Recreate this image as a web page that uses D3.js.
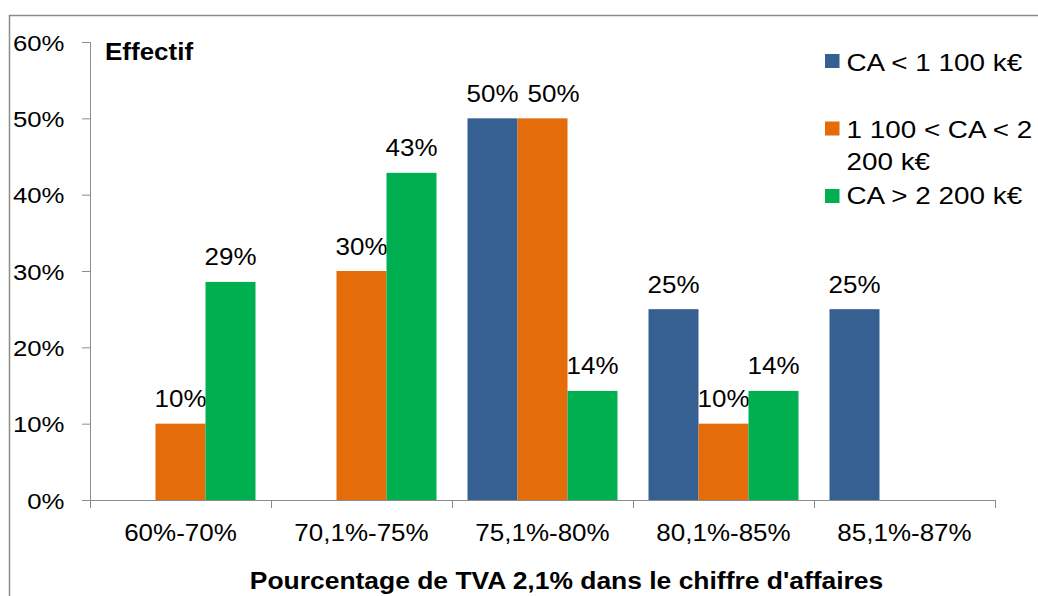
<!DOCTYPE html>
<html><head><meta charset="utf-8">
<script src="https://cdn.jsdelivr.net/npm/d3@7"></script>
<style>body{margin:0;background:#fff}svg{display:block;font-family:"Liberation Sans",Arial,sans-serif}</style>
</head><body><svg id="c" width="1038" height="596"></svg>
<script>
const categories = ["60%-70%","70,1%-75%","75,1%-80%","80,1%-85%","85,1%-87%"];
const seriesNames = ["CA < 1 100 k€","1 100 < CA < 2 200 k€","CA > 2 200 k€"];
const blueValues = [null, null, 50, 25, 25];
const orangeValues = [10, 30, 50, 10, null];
const greenValues = [28.57, 42.86, 14.29, 14.29, null];
const yTicks = [0,10,20,30,40,50,60];
const colors = ["#376092","#E46C0A","#00B050"];

const svg = d3.select("#c");
const FF = "Liberation Sans, Arial, sans-serif";
const m = {l:90, r:995, t:42, b:500};
const x = d3.scaleBand().domain(categories).range([m.l, m.r]).paddingInner(0).paddingOuter(0);
const y = d3.scaleLinear().domain([0,60]).range([m.b, m.t]);

function stext(parent, tx, ty, str, size, k, opts={}) {
  const t = parent.append("text")
    .attr("transform", `translate(${tx},${ty}) scale(${k},1)`)
    .attr("font-size", size).attr("font-family", FF).attr("fill", "#000")
    .attr("text-anchor", opts.anchor || "start")
    .text(str);
  if (opts.bold) t.attr("font-weight", "bold");
  return t;
}

// outer border
svg.append("path").attr("d", "M9.5,596 V15.5 H1038").attr("fill","none").attr("stroke","#8c8c8c").attr("stroke-width",1.5);

// y axis
const ky = 1.12;
const ya = svg.append("g").attr("transform",`translate(${m.l},0)`)
  .call(d3.axisLeft(y).tickValues(yTicks).tickSize(8).tickFormat(d=>d+"%"));
ya.select(".domain").attr("stroke","#8c8c8c").attr("d",`M-8,${m.t+0.5}H0.5V${m.b+0.5}H-8`);
ya.selectAll(".tick line").attr("stroke","#8c8c8c");
ya.selectAll("text").attr("font-size",23).attr("fill","#000").attr("font-family",FF)
  .attr("x", -25.5/ky).attr("dy","0.36em").attr("transform",`scale(${ky},1)`);

// x axis
const kx = 1.13;
const xa = svg.append("g").attr("transform",`translate(0,${m.b})`)
  .call(d3.axisBottom(x).tickSize(0).tickPadding(25));
xa.select(".domain").attr("stroke","#8c8c8c").attr("d",`M${m.l+0.5},8V0.5H${m.r+0.5}V8`);
xa.selectAll("text").attr("font-size",23).attr("fill","#000").attr("font-family",FF)
  .attr("transform",`scale(${kx},1)`);
xa.selectAll(".bnd").data(d3.range(categories.length+1)).enter().append("line")
  .attr("x1",i=>Math.round(m.l + i*x.step())+0.5).attr("x2",i=>Math.round(m.l + i*x.step())+0.5)
  .attr("y1",0).attr("y2",8).attr("stroke","#8c8c8c");

// bars
const gap = 31;
const bw = (x.bandwidth()-gap)/3;
const series = [blueValues, orangeValues, greenValues];
const labelG = svg.append("g");
const placed = []; // label boxes for simple collision nudge
series.forEach((vals, si) => {
  const g = svg.append("g");
  const data = categories.map((c,i)=>({c, v: vals[i]})).filter(d=>d.v!=null);
  g.selectAll("rect").data(data).enter().append("rect")
    .attr("x", d=>x(d.c)+gap/2+si*bw).attr("width", bw)
    .attr("y", d=>y(d.v)).attr("height", d=>y(0)-y(d.v)).attr("fill", colors[si]);
});
categories.forEach((c, ci) => {
  let prevRight = -Infinity, prevY = null;
  series.forEach((vals, si) => {
    const v = vals[ci];
    if (v == null) return;
    const ty = y(v) - 16.5;
    let cx = x(c) + gap/2 + si*bw + bw/2;
    const t = stext(labelG, cx, ty, Math.round(v)+"%", 23, 1.13, {anchor:"middle"});
    const w = t.node().getBBox().width * 1.13;
    if (prevY !== null && Math.abs(prevY - ty) < 20 && cx - w/2 < prevRight + 9) {
      cx = prevRight + 9 + w/2;
      t.attr("transform", `translate(${cx},${ty}) scale(1.13,1)`);
    }
    prevRight = cx + w/2; prevY = ty;
  });
});

// "Effectif" label
stext(svg, 105, 60, "Effectif", 23, 1.13, {bold:true});

// axis title
stext(svg, 566.5, 588.5, "Pourcentage de TVA 2,1% dans le chiffre d'affaires", 23, 1.15, {anchor:"middle", bold:true});

// legend
const legendRows = [{lines:["CA < 1 100 k€"], sq:54, base:70.5},
                    {lines:["1 100 < CA < 2","200 k€"], sq:121.5, base:138},
                    {lines:["CA > 2 200 k€"], sq:189, base:204}];
legendRows.forEach((r,i)=>{
  svg.append("rect").attr("x",825).attr("y",r.sq).attr("width",14.5).attr("height",14).attr("fill",colors[i]);
  r.lines.forEach((t,j)=>{
    stext(svg, 846.5, r.base + j*32, t, 24, 1.16);
  });
});
</script></body></html>
